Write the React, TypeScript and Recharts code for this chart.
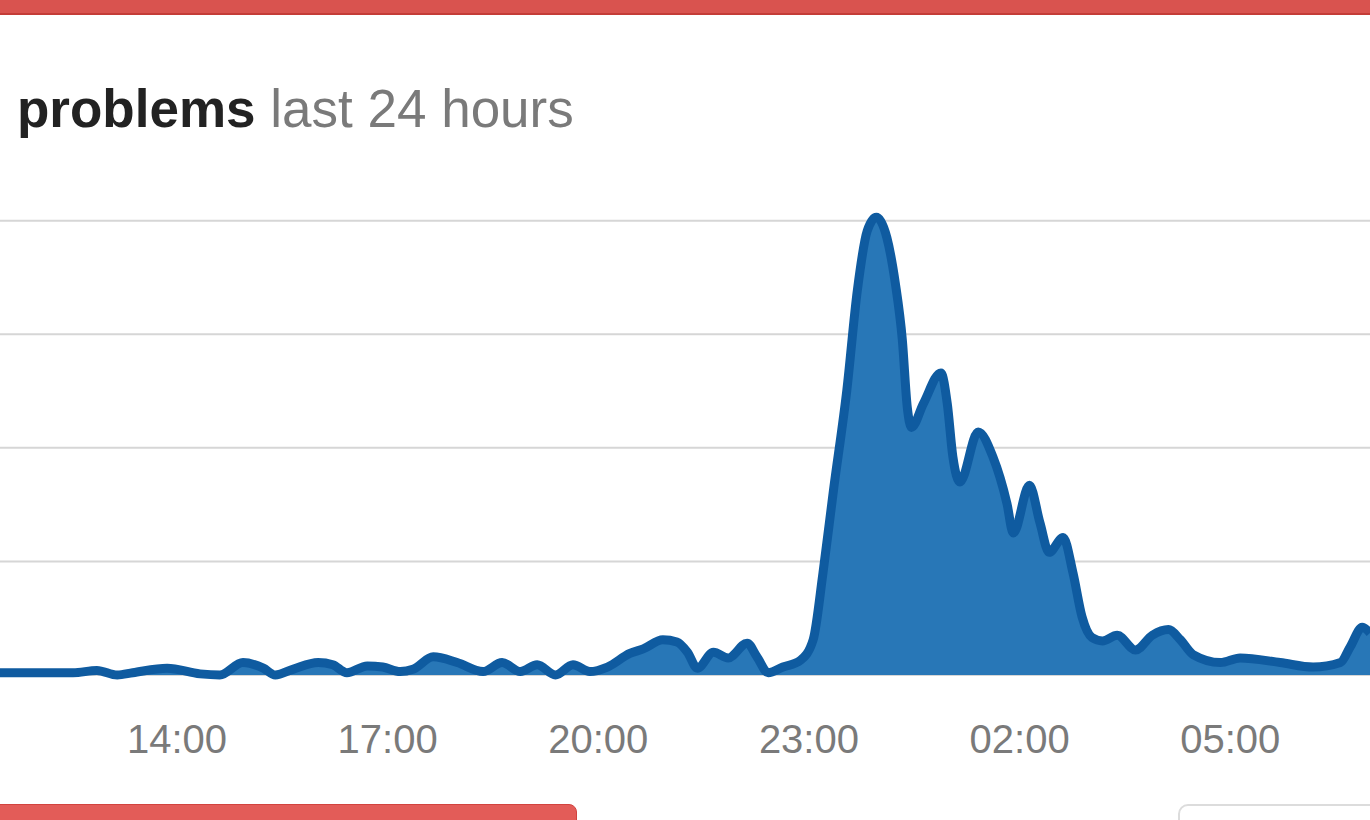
import React from 'react';
import { AreaChart, Area, XAxis, YAxis, CartesianGrid } from 'recharts';

// hours since midnight of the first day (values above 24 are the next morning)
const hours = [
  11.48, 12.05, 12.52, 12.86, 13.15, 13.37, 13.86, 14.33, 14.61, 14.94,
  15.23, 15.4, 15.65, 16.01, 16.22, 16.42, 16.71, 16.93, 17.18, 17.36,
  17.65, 17.99, 18.36, 18.63, 18.89, 19.13, 19.39, 19.64, 19.88, 20.13,
  20.45, 20.64, 20.92, 21.12, 21.27, 21.41, 21.64, 21.85, 22.12, 22.26,
  22.42, 22.63, 22.88, 23.06, 23.2, 23.35, 23.54, 23.69, 23.83, 23.96,
  24.11, 24.23, 24.33, 24.4, 24.46, 24.63, 24.88, 24.97, 25.05, 25.15,
  25.41, 25.62, 25.82, 25.91, 26.14, 26.29, 26.42, 26.62, 26.76, 26.89,
  27.03, 27.18, 27.39, 27.65, 27.89, 28.12, 28.29, 28.47, 28.86, 29.14,
  29.71, 30.18, 30.57, 30.71, 30.88, 30.99,
];

const problems = [
  2, 2, 2, 4, 0, 2, 6, 1, 0, 11,
  6, 0, 5, 11, 9, 2, 8, 7, 3, 5,
  16, 11, 3, 11, 3, 9, 0, 9, 3, 7,
  19, 23, 31, 29, 20, 6, 20, 15, 28, 16,
  2, 7, 13, 31, 90, 163, 251, 339, 391, 403,
  385, 345, 295, 236, 218, 239, 266, 239, 192, 170,
  214, 192, 151, 125, 167, 134, 108, 121, 90, 51,
  33, 30, 35, 22, 35, 40, 31, 18, 11, 15,
  11, 7, 11, 25, 42, 37,
];

const tickHours = [14, 17, 20, 23, 26, 29];
const tickLabels = ['14:00', '17:00', '20:00', '23:00', '02:00', '05:00'];
const gridValues = [0, 100, 200, 300, 400];

const data = hours.map((h, i) => ({ h, count: problems[i] }));

export default function App() {
  return (
    <div
      style={{
        position: 'absolute',
        left: 0,
        top: 0,
        width: 1370,
        height: 820,
        overflow: 'hidden',
        background: '#fff',
        fontFamily: '"Liberation Sans", Arial, sans-serif',
      }}
    >
      <div style={{ position: 'absolute', left: 0, top: 0, width: 1370, height: 13, background: '#d9534f', borderBottom: '2px solid #c43c37' }} />

      <AreaChart width={1370} height={780} data={data} margin={{ top: 198, right: 0, bottom: 25, left: 0 }}>
        <CartesianGrid vertical={false} horizontalValues={gridValues} stroke="#d6d6d6" strokeWidth={2} />
        <XAxis
          dataKey="h"
          type="number"
          domain={[11.48, 30.99]}
          allowDataOverflow
          ticks={tickHours}
          tickFormatter={(v: number) => tickLabels[tickHours.indexOf(v)]}
          axisLine={false}
          tickLine={false}
          tickSize={0}
          tickMargin={50}
          height={80}
          tick={{ fill: '#7a7a7a', fontSize: 40, fontFamily: '"Liberation Sans", Arial, sans-serif' }}
        />
        <YAxis hide domain={[0, 420]} ticks={gridValues} />
        <Area
          type="monotone"
          dataKey="count"
          stroke="#0f5ba0"
          strokeWidth={9}
          strokeLinejoin="round"
          fill="#2877b7"
          fillOpacity={1}
          isAnimationActive={false}
        />
      </AreaChart>

      <div style={{ position: 'absolute', left: 17, top: 82, fontSize: 53, lineHeight: '53px', whiteSpace: 'nowrap' }}>
        <span style={{ fontWeight: 'bold', color: '#222' }}>problems</span>
        <span style={{ color: '#7a7a7a' }}> last 24 hours</span>
      </div>

      <div style={{ position: 'absolute', left: -10, top: 804, width: 585, height: 40, background: '#e35c58', border: '1px solid #d2433f', borderRadius: 8 }} />
      <div style={{ position: 'absolute', left: 1178, top: 804, width: 220, height: 40, background: '#fff', border: '2px solid #dcdcdc', borderRadius: 10 }} />
    </div>
  );
}
